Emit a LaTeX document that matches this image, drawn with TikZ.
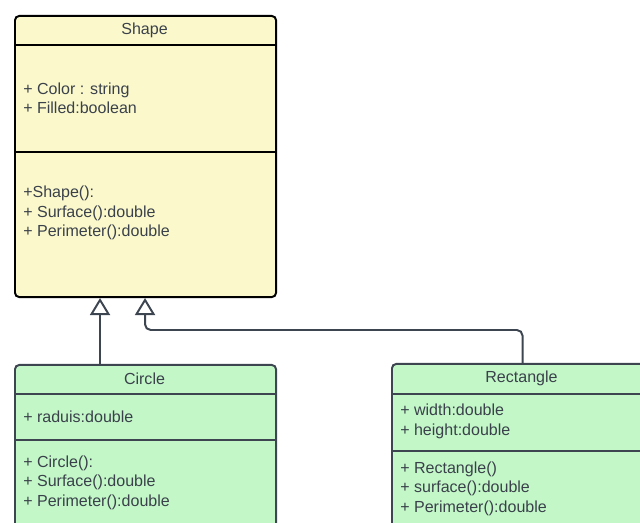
\documentclass[tikz,border=0pt]{standalone}
\usepackage{fontspec}
\setmainfont{Liberation Sans}
\usetikzlibrary{arrows.meta}

\definecolor{shapefill}{RGB}{251,249,204}
\definecolor{subfill}{RGB}{195,247,200}
\definecolor{ink}{RGB}{58,65,74}
\definecolor{edge}{RGB}{61,69,80}

\tikzset{
  classbox/.style={draw, rounded corners=3pt, line width=1.4pt, anchor=north west,
    minimum width=6.525cm, inner sep=0pt},
  title/.style={text=ink, inner sep=0pt, font=\fontsize{11.4}{13.8}\selectfont},
  members/.style={anchor=west, align=left, text=ink, inner sep=0pt,
    font=\fontsize{11.4}{13.8}\selectfont},
  inherit/.style={draw=edge, line width=1.4pt, rounded corners=4pt,
    -{Triangle[open, length=0.425cm, width=0.5cm, line width=1.4pt]}}
}

\begin{document}
\begin{tikzpicture}[x=0.025cm, y=-0.025cm]
        \useasboundingbox (0,0) rectangle (640,523);
        \clip (0,0) rectangle (640,523);

        % parent class
        \node[classbox, fill=shapefill, draw=black, minimum height=7.025cm] (shape) at (14,15) {};
        \draw[line width=1.4pt] (shape.west |- 0,45) -- (shape.east |- 0,45);
        \draw[line width=1.4pt] (shape.west |- 0,152) -- (shape.east |- 0,152);
        \node[title] (shapename) at (144.5,30.5) {Shape};
        \node[members] (shapeattr) at (23,98) {+ Color : string\\+ Filled:boolean};
        \node[members] (shapeops) at (23,213) {+Shape():\\+ Surface():double\\+ Perimeter():double};

        % subclasses
        \node[classbox, fill=subfill, draw=edge, minimum height=4.5cm] (circle) at (14,364) {};
        \draw[draw=edge, line width=1.4pt] (circle.west |- 0,394) -- (circle.east |- 0,394);
        \draw[draw=edge, line width=1.4pt] (circle.west |- 0,440) -- (circle.east |- 0,440);
        \node[title] (circlename) at (144.5,378.5) {Circle};
        \node[members] (circleattr) at (23,416.5) {+ raduis:double};
        \node[members] (circleops) at (23,482.5) {+ Circle():\\+ Surface():double\\+ Perimeter():double};

        \node[classbox, fill=subfill, draw=edge, minimum height=4.5cm] (rect) at (391,363) {};
        \draw[draw=edge, line width=1.4pt] (rect.west |- 0,394) -- (rect.east |- 0,394);
        \draw[draw=edge, line width=1.4pt] (rect.west |- 0,451) -- (rect.east |- 0,451);
        \node[title] (rectname) at (521.5,378.5) {Rectangle};
        \node[members] (rectattr) at (400,421.5) {+ width:double\\+ height:double};
        \node[members] (rectops) at (400,488.5) {+ Rectangle()\\+ surface():double\\+ Perimeter():double};

        % generalisation
        \draw[inherit] ([xshift=2.15cm]circle.north west) -- ([xshift=2.15cm]shape.south west);
        \draw[inherit] (rect.north) -- ++(0,-33) -| ([xshift=3.275cm]shape.south west);
\end{tikzpicture}
\end{document}
